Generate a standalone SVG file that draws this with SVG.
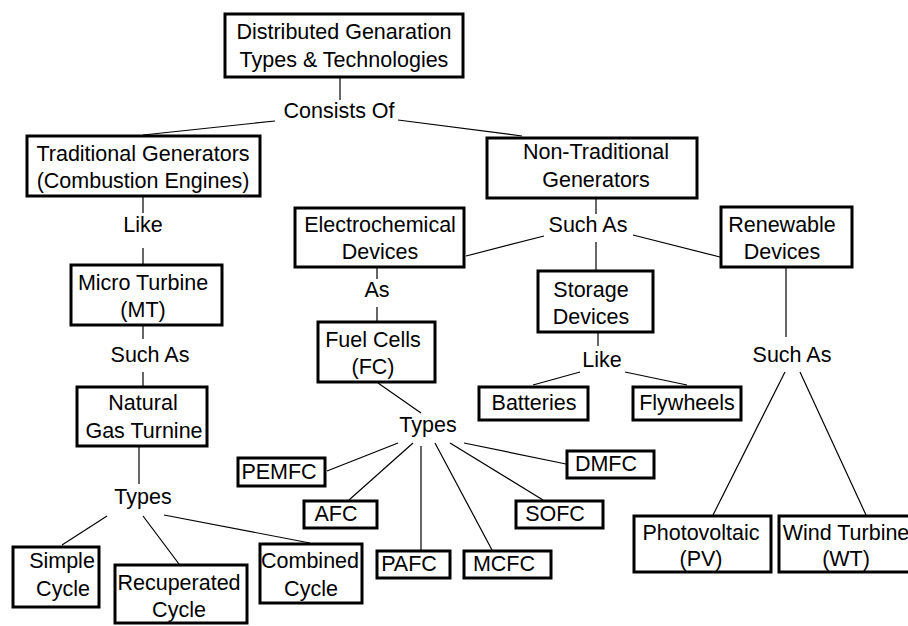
<svg xmlns="http://www.w3.org/2000/svg" width="908" height="626" viewBox="0 0 908 626">
<style>
rect{fill:#fff;stroke:#000;stroke-width:3}
text{font-family:"Liberation Sans",Arial,sans-serif;font-size:21.5px;fill:#000;text-anchor:middle}
.c line{stroke:#000;stroke-width:1.2}
</style>
<rect x="0" y="0" width="908" height="626" style="stroke:none"/>
<g class="c" id="connectors">
<line x1="340" y1="78" x2="340" y2="100"/>
<line x1="275" y1="121" x2="143" y2="135"/>
<line x1="398" y1="120" x2="522" y2="136"/>
<line x1="143" y1="197" x2="143" y2="213"/>
<line x1="143" y1="248" x2="143" y2="264"/>
<line x1="143" y1="326" x2="143" y2="339"/>
<line x1="143" y1="372" x2="143" y2="386"/>
<line x1="139" y1="447" x2="139" y2="484"/>
<line x1="107" y1="516" x2="62" y2="545"/>
<line x1="143" y1="516" x2="179" y2="564"/>
<line x1="164" y1="515" x2="310" y2="543"/>
<line x1="596" y1="199" x2="596" y2="214"/>
<line x1="544" y1="236" x2="466" y2="256"/>
<line x1="633" y1="235" x2="720" y2="257"/>
<line x1="596" y1="242" x2="596" y2="270"/>
<line x1="598" y1="333" x2="598" y2="346"/>
<line x1="580" y1="372" x2="533" y2="385"/>
<line x1="625" y1="372" x2="687" y2="385"/>
<line x1="786" y1="268" x2="786" y2="337"/>
<line x1="785" y1="372" x2="713" y2="515"/>
<line x1="800" y1="372" x2="866" y2="515"/>
<line x1="377" y1="266" x2="377" y2="279"/>
<line x1="377" y1="307" x2="377" y2="322"/>
<line x1="378" y1="383" x2="421" y2="413"/>
<line x1="398" y1="443" x2="327" y2="471"/>
<line x1="413" y1="443" x2="349" y2="500"/>
<line x1="421" y1="446" x2="421" y2="550"/>
<line x1="435" y1="443" x2="492" y2="550"/>
<line x1="450" y1="443" x2="543" y2="500"/>
<line x1="464" y1="443" x2="566" y2="464"/>
</g>
<g id="label-consists"><text x="339" y="118">Consists Of</text></g>
<g id="label-like1"><text x="143" y="232">Like</text></g>
<g id="label-suchas1"><text x="150" y="362">Such As</text></g>
<g id="label-types1"><text x="143" y="504">Types</text></g>
<g id="label-suchas2"><text x="588" y="232">Such As</text></g>
<g id="label-like2"><text x="602" y="367">Like</text></g>
<g id="label-suchas3"><text x="792" y="362">Such As</text></g>
<g id="label-as"><text x="377" y="297">As</text></g>
<g id="label-types2"><text x="428" y="432">Types</text></g>

<g id="dg"><rect x="225" y="14" width="238" height="63"/><text x="344" y="39">Distributed Genaration</text><text x="344" y="67">Types &amp; Technologies</text></g>
<g id="traditional"><rect x="27" y="136" width="233" height="60"/><text x="143" y="161">Traditional Generators</text><text x="143" y="188">(Combustion Engines)</text></g>
<g id="nontraditional"><rect x="487" y="138" width="210" height="60"/><text x="596" y="159">Non-Traditional</text><text x="596" y="187">Generators</text></g>
<g id="microturbine"><rect x="71" y="265" width="151" height="60"/><text x="143" y="290">Micro Turbine</text><text x="143" y="317">(MT)</text></g>
<g id="naturalgas"><rect x="77" y="387" width="130" height="59"/><text x="143" y="410">Natural</text><text x="144" y="438">Gas Turnine</text></g>
<g id="simple"><rect x="13" y="547" width="86" height="60"/><text x="62" y="568">Simple</text><text x="63" y="596">Cycle</text></g>
<g id="recuperated"><rect x="115" y="565" width="132" height="58"/><text x="179" y="590">Recuperated</text><text x="179" y="617">Cycle</text></g>
<g id="combined"><rect x="260" y="544" width="102" height="59"/><text x="310" y="568">Combined</text><text x="311" y="596">Cycle</text></g>
<g id="electrochemical"><rect x="295" y="208" width="169" height="59"/><text x="380" y="232">Electrochemical</text><text x="380" y="259">Devices</text></g>
<g id="fuelcells"><rect x="318" y="322" width="117" height="60"/><text x="373" y="347">Fuel Cells</text><text x="373" y="374">(FC)</text></g>
<g id="storage"><rect x="538" y="271" width="115" height="61"/><text x="591" y="297">Storage</text><text x="591" y="324">Devices</text></g>
<g id="renewable"><rect x="721" y="207" width="131" height="60"/><text x="782" y="232">Renewable</text><text x="782" y="259">Devices</text></g>
<g id="batteries"><rect x="479" y="387" width="109" height="33"/><text x="534" y="410">Batteries</text></g>
<g id="flywheels"><rect x="633" y="387" width="108" height="33"/><text x="687" y="410">Flywheels</text></g>
<g id="pemfc"><rect x="238" y="458" width="87" height="28"/><text x="279" y="479">PEMFC</text></g>
<g id="afc"><rect x="304" y="501" width="73" height="27"/><text x="336" y="521">AFC</text></g>
<g id="pafc"><rect x="377" y="551" width="73" height="27"/><text x="409" y="571">PAFC</text></g>
<g id="mcfc"><rect x="464" y="551" width="87" height="27"/><text x="504" y="571">MCFC</text></g>
<g id="sofc"><rect x="516" y="501" width="87" height="27"/><text x="555" y="521">SOFC</text></g>
<g id="dmfc"><rect x="567" y="451" width="87" height="27"/><text x="606" y="471">DMFC</text></g>
<g id="pv"><rect x="634" y="516" width="137" height="56"/><text x="701" y="540">Photovoltaic</text><text x="701" y="566">(PV)</text></g>
<g id="wt"><rect x="779" y="516" width="135" height="56"/><text x="846" y="540">Wind Turbine</text><text x="846" y="566">(WT)</text></g>
</svg>
